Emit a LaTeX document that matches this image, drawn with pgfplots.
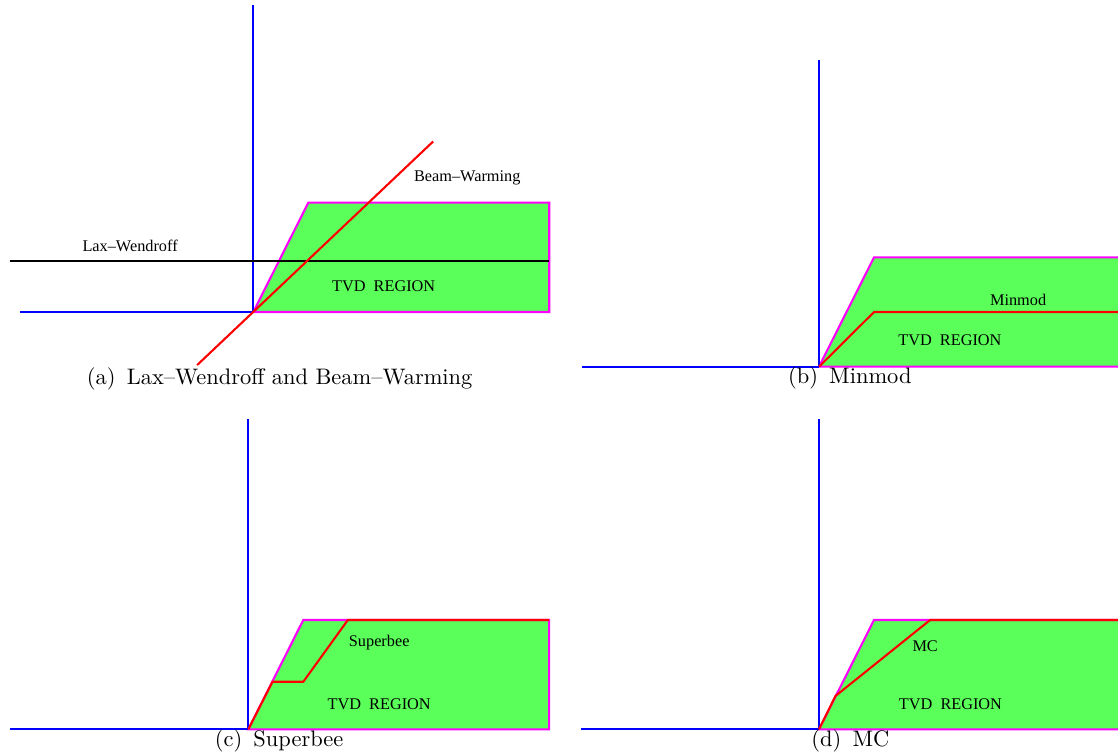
\documentclass[border=0pt]{standalone}
\usepackage{fontspec}
\newfontfamily\lblfont[Ligatures=TeX]{Liberation Serif}
\usepackage{pgfplots}
\pgfplotsset{compat=1.18}
\definecolor{tvdgreen}{RGB}{90,255,90}
\definecolor{mag}{RGB}{255,0,255}
\definecolor{pblue}{RGB}{0,0,255}
\definecolor{pred}{RGB}{255,0,0}
\newcommand{\capgap}{\hspace{0.5em}}
\tikzset{
  region/.style={fill=tvdgreen, draw=mag, line width=0.9pt, line join=miter},
  axl/.style={draw=pblue, line width=0.9pt},
  lim/.style={draw=pred, line width=0.9pt, line join=miter},
  lbl/.style={font=\lblfont\fontsize{7}{8}\selectfont},
  captxt/.style={font=\fontsize{9.65}{11}\selectfont, anchor=base},
}
\pgfplotsset{
  panel/.style={hide axis, clip=false, x=23.65pt, y=23.5pt,
    xmin=-4.5, xmax=5.6, ymin=-1.4, ymax=5.7, anchor=origin, no markers},
}
\begin{document}
\begin{tikzpicture}
\useasboundingbox (0,0) rectangle (480.74pt,324.22pt);
% (a)
\begin{axis}[panel, at={(108.92pt,190.06pt)}]
\addplot[region] coordinates {(0,0) (1,2) (5.38,2) (5.38,0)} -- cycle;
\addplot[axl] coordinates {(0,0) (0,5.62)};
\addplot[axl] coordinates {(-4.25,0) (0,0)};
\addplot[draw=black, line width=0.9pt] coordinates {(-4.43,0.94) (5.38,0.94)};
\addplot[lim] coordinates {(-1.02,-0.97) (3.27,3.12)};
\node[lbl] at (axis cs:-2.24,1.21) {Lax--Wendroff};
\node[lbl] at (axis cs:3.89,2.46) {Beam--Warming};
\node[lbl] at (axis cs:2.37,0.47) {TVD\ \ REGION};
\node[captxt] at (axis cs:0.48,-1.32) {(a)\capgap Lax--Wendroff and Beam--Warming};
\end{axis}
% (b)
\begin{axis}[panel, at={(352.17pt,166.54pt)}]
\addplot[region] coordinates {(0,0) (1,2) (5.6,2) (5.6,0)} -- cycle;
\addplot[axl] coordinates {(0,0) (0,5.62)};
\addplot[axl] coordinates {(-4.31,0) (0,0)};
\addplot[lim] coordinates {(0,0) (1,1) (5.6,1)};
\node[lbl] at (axis cs:3.62,1.22) {Minmod};
\node[lbl] at (axis cs:2.38,0.48) {TVD\ \ REGION};
\node[captxt] at (axis cs:0.56,-0.30) {(b)\capgap Minmod};
\end{axis}
% (c)
\begin{axis}[panel, at={(106.77pt,10.62pt)}]
\addplot[region] coordinates {(0,0) (1,2) (5.47,2) (5.47,0)} -- cycle;
\addplot[axl] coordinates {(0,0) (0,5.67)};
\addplot[axl] coordinates {(-4.33,0) (0,0)};
\addplot[lim] coordinates {(0,0) (0.44,0.87) (1.0,0.87) (1.81,2) (5.47,2)};
\node[lbl] at (axis cs:2.38,1.59) {Superbee};
\node[lbl] at (axis cs:2.38,0.45) {TVD\ \ REGION};
\node[captxt] at (axis cs:0.56,-0.32) {(c)\capgap Superbee};
\end{axis}
% (d)
\begin{axis}[panel, at={(352.17pt,10.62pt)}]
\addplot[region] coordinates {(0,0) (1,2) (5.6,2) (5.6,0)} -- cycle;
\addplot[axl] coordinates {(0,0) (0,5.67)};
\addplot[axl] coordinates {(-4.33,0) (0,0)};
\addplot[lim] coordinates {(0,0) (0.30,0.61) (2.02,2) (5.6,2)};
\node[lbl] at (axis cs:1.93,1.53) {MC};
\node[lbl] at (axis cs:2.39,0.45) {TVD\ \ REGION};
\node[captxt] at (axis cs:0.57,-0.32) {(d)\capgap MC};
\end{axis}
\end{tikzpicture}
\end{document}
